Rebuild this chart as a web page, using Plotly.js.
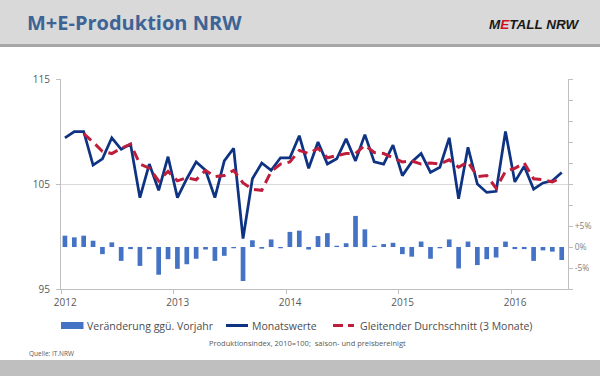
<!DOCTYPE html>
<html>
<head>
<meta charset="utf-8">
<script src="https://cdn.plot.ly/plotly-3.0.1.min.js"></script>
<style>html,body{margin:0;padding:0;background:#fff;}#chart{width:600px;height:376px;}</style>
</head>
<body>
<div id="chart"></div>
<script>
// ---- Data ----
const months = [
  '2012-01','2012-02','2012-03','2012-04','2012-05','2012-06','2012-07','2012-08','2012-09','2012-10','2012-11','2012-12',
  '2013-01','2013-02','2013-03','2013-04','2013-05','2013-06','2013-07','2013-08','2013-09','2013-10','2013-11','2013-12',
  '2014-01','2014-02','2014-03','2014-04','2014-05','2014-06','2014-07','2014-08','2014-09','2014-10','2014-11','2014-12',
  '2015-01','2015-02','2015-03','2015-04','2015-05','2015-06','2015-07','2015-08','2015-09','2015-10','2015-11','2015-12',
  '2016-01','2016-02','2016-03','2016-04','2016-05','2016-06'
];
const monatswerte = [
  109.4, 110.0, 110.0, 106.8, 107.4, 109.4, 108.3, 108.8, 103.7, 106.9, 104.4, 107.6,
  103.7, 105.5, 107.1, 106.3, 103.7, 107.2, 108.4, 99.8, 105.5, 107.0, 106.3, 107.5,
  107.5, 109.6, 106.5, 109.0, 106.9, 107.4, 109.3, 107.2, 109.7, 107.1, 106.9, 108.7,
  105.8, 107.1, 107.9, 106.1, 106.6, 109.4, 103.6, 108.5, 105.0, 104.2, 104.3, 110.0,
  105.2, 106.7, 104.5, 105.1, 105.3, 106.1
];
const gleitend = [
  null, null, 109.8, 109.0, 108.1, 107.9, 108.4, 108.8, 106.9, 106.5, 105.3, 106.2,
  105.3, 105.6, 105.4, 106.3, 105.7, 105.8, 106.3, 105.1, 104.5, 104.4, 106.2, 106.9,
  107.1, 108.2, 107.9, 108.4, 107.5, 107.7, 107.9, 107.9, 108.7, 108.0, 107.9, 107.5,
  107.1, 107.2, 106.9, 107.0, 106.9, 107.3, 106.6, 107.1, 105.7, 105.8, 104.6, 106.2,
  106.5, 107.0, 105.5, 105.4, 105.2, 105.6
];
const veraenderung = [
  2.7, 2.3, 2.7, 1.5, -1.7, 1.1, -3.3, -0.5, -4.5, -0.5, -6.6, -2.9,
  -5.2, -4.1, -2.8, -0.6, -3.3, -2.1, -0.3, -8.1, 1.6, -0.4, 1.8, -0.3,
  3.6, 3.9, -0.6, 2.6, 3.3, 0.3, 0.9, 7.4, 4.2, 0.3, 0.7, 1.0,
  -1.7, -2.3, 1.3, -2.8, -0.3, 1.8, -5.1, 1.3, -4.3, -2.9, -2.5, 1.3,
  -0.5, -0.5, -3.3, -0.8, -1.1, -3.1
];
const yearLabels = ['2012','2013','2014','2015','2016'];
const leftTicks = [95, 105, 115];
const rightTicks = [-10, -5, 0, 5, 10, 15, 20, 25, 30, 35, 40];
const rightTickText = ['', '-5%', '0%', '+5%', '', '', '', '', '', '', ''];
const legendLabels = ['Veränderung ggü. Vorjahr', 'Monatswerte', 'Gleitender Durchschnitt (3 Monate)'];

// ---- Styling ----
const FONT = 'Open Sans, Liberation Sans, sans-serif';
const LOGOFONT = 'Liberation Sans, Arial, sans-serif';
const NAVY = '#0E3383', RED = '#BE1E3C', BARBLUE = '#4472C4';
const GRAYTXT = '#595959', AXIS = '#BFBFBF';

const xIdx = months.map((m, i) => i);
const yearTickPos = yearLabels.map((y, k) => 12 * k - 0.4);

// plot area in pixels
const L = 61, R = 568, T = 79, B = 289;
const px = p => (p - L) / (R - L);
const py = p => (B - p) / (B - T);

const traces = [
  {type: 'bar', x: xIdx, y: veraenderung, yaxis: 'y2', width: 0.5,
   marker: {color: BARBLUE, line: {width: 0}}, name: legendLabels[0], hoverinfo: 'skip'},
  {type: 'scatter', mode: 'lines', x: xIdx, y: monatswerte, name: legendLabels[1],
   line: {color: NAVY, width: 2.75}},
  {type: 'scatter', mode: 'lines', x: xIdx, y: gleitend, name: legendLabels[2],
   line: {color: RED, width: 3, dash: '10px,6px'}}
];

const shapes = [
  {type: 'rect', xref: 'paper', yref: 'paper', x0: px(0), x1: px(600), y0: py(0), y1: py(44),
   fillcolor: '#D9D9D9', line: {width: 0}, layer: 'below'},
  {type: 'line', xref: 'paper', yref: 'paper', x0: px(0), x1: px(600), y0: py(45.5), y1: py(45.5),
   line: {color: '#A6A6A6', width: 3}, layer: 'below'},
  {type: 'rect', xref: 'paper', yref: 'paper', x0: px(0), x1: px(600), y0: py(360), y1: py(377),
   fillcolor: '#BFBFBF', line: {width: 0}, layer: 'below'},
  {type: 'rect', xref: 'paper', yref: 'paper', x0: px(61), x1: px(83.5), y0: py(322), y1: py(329),
   fillcolor: BARBLUE, line: {width: 0}},
  {type: 'line', xref: 'paper', yref: 'paper', x0: px(226), x1: px(248), y0: py(325.5), y1: py(325.5),
   line: {color: NAVY, width: 3}},
  {type: 'line', xref: 'paper', yref: 'paper', x0: px(333), x1: px(354), y0: py(325.5), y1: py(325.5),
   line: {color: RED, width: 3, dash: '10px,5px'}}
];

const ann = (text, x, y, size, color, anchor, family) => ({
  text, xref: 'paper', yref: 'paper', x: px(x), y: py(y), xanchor: anchor || 'left', yanchor: 'middle',
  showarrow: false, font: {family: family || FONT, size, color}
});

const annotations = [
  ann('<b><i>M<span style="color:#D0101E">E</span>TALL NRW</i></b>', 582, 24, 13.5, '#1A1A1A', 'right', LOGOFONT),
  ann(legendLabels[0], 85, 325.5, 10.5, '#4D4D4D'),
  ann(legendLabels[1], 250, 325.5, 10.5, '#4D4D4D'),
  ann(legendLabels[2], 358, 325.5, 10.5, '#4D4D4D'),
  ann('Produktionsindex, 2010=100;  saison- und preisbereinigt', 307, 343, 7.5, GRAYTXT, 'center'),
  ann('Quelle: IT.NRW', 27, 353, 6.5, GRAYTXT)
];

const layout = {
  width: 600, height: 376,
  margin: {l: L, r: 600 - R, t: T, b: 376 - B, pad: 0},
  paper_bgcolor: '#FFFFFF', plot_bgcolor: '#FFFFFF',
  showlegend: false,
  title: {text: '<b>M+E-Produktion NRW</b>', xref: 'container', yref: 'container',
          x: 27 / 600, xanchor: 'left', y: 1 - 23 / 376, yanchor: 'middle',
          font: {family: FONT, size: 20, color: '#3D6494'}},
  xaxis: {range: [-0.42, 53.67], tickmode: 'array', tickvals: yearTickPos, ticktext: yearLabels,
          ticks: 'outside', ticklen: 4, tickcolor: AXIS, showline: true, linecolor: AXIS, linewidth: 1,
          showgrid: false, zeroline: false, ticklabelshift: 4,
          tickfont: {family: FONT, size: 10, color: GRAYTXT}},
  yaxis: {range: [95, 115], tickmode: 'array', tickvals: leftTicks, ticks: 'outside', ticklen: 4,
          tickcolor: AXIS, showline: true, linecolor: AXIS, showgrid: true, gridcolor: '#D9D9D9',
          zeroline: false, ticklabelstandoff: 4,
          tickfont: {family: FONT, size: 10, color: GRAYTXT}},
  yaxis2: {overlaying: 'y', side: 'right', range: [-10, 40], tickmode: 'array', tickvals: rightTicks,
           ticktext: rightTickText, ticks: 'outside', ticklen: 4, tickcolor: AXIS, showline: true,
           linecolor: AXIS, showgrid: false, zeroline: false,
           tickfont: {family: FONT, size: 8.5, color: '#7F7F7F'}},
  bargap: 0.5,
  shapes, annotations
};

Plotly.newPlot('chart', traces, layout, {staticPlot: true, displayModeBar: false});
</script>
</body>
</html>
